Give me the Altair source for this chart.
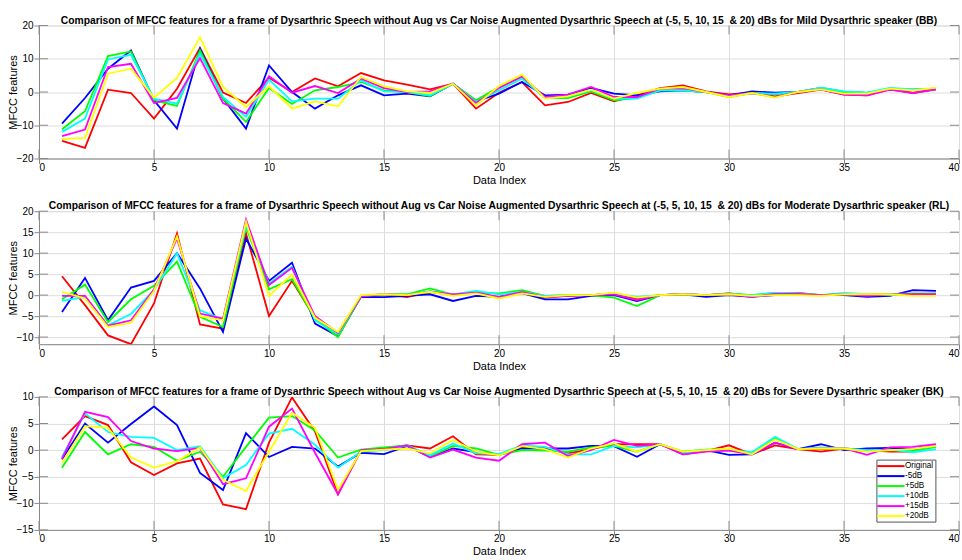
import altair as alt
import pandas as pd

# ---------------- data ----------------
x_idx = list(range(1, 40))
series_names = ["Original", "-5dB", "+5dB", "+10dB", "+15dB", "+20dB"]
series_colors = ["#FF0000", "#0000FF", "#00FF00", "#00FFFF", "#FF00FF", "#FFFF00"]

x_ticks = [0, 5, 10, 15, 20, 25, 30, 35, 40]
mild_yticks = [-20, -10, 0, 10, 20]
mod_yticks = [-10, -5, 0, 5, 10, 15, 20]
sev_yticks = [-15, -10, -5, 0, 5, 10]

# Mild (BB)
mild_original = [-14.7, -16.8, 0.7, -0.3, -8, 1, 13.3, -0.2, -3.3, 4.3, 0, 4.1, 1.7, 5.7, 3.5, 2.2, 0.8, 2.5, -5, -0.2,
                 3, -4, -3, -0.3, -2.8, -1, 1.2, 2, 0.2, -0.7, -0.3, -1.3, -0.3, 0.7, -0.8, -1, 0.8, -0.3, 0.8]
mild_m5 = [-9.5, -1.8, 7, 12.5, -2.5, -11, 13, -2, -11, 8, 0, -5, -1, 2, -1, -0.5, -1.3, 2.5, -2.8, -0.5,
           3, -1, -0.8, 1.2, -0.5, -1, 0.2, 0.5, 0, -1, 0.2, -0.2, 0, 1.2, 0, -0.3, 0.8, 0.7, 1]
mild_p5 = [-11.2, -5.8, 10.8, 12.2, -2.5, -4.2, 12.5, -2, -9, 1.2, -3.6, 0.5, 1.5, 3, 0.5, 0, -1.2, 2.5, -2.5, 1.5,
           4.5, -1.8, -1.8, 0.2, -2.5, -1.8, 0.5, 0.5, 0, -1.5, -0.3, -0.7, 0, 1, 0, -0.3, 1, 0.7, 1]
mild_p10 = [-12, -8, 9.8, 11.2, -2, -3.5, 11.5, -1.5, -7.5, 3.7, -2.8, -2, -2, 3.5, 0.2, 0, -1, 2.5, -3, 0.5,
            4, -1.7, -1.3, 0.5, -2, -2, 0.5, 0.5, 0, -1.3, -0.3, -0.5, 0, 1.3, 0.2, -0.2, 1.2, 0.8, 1]
mild_p15 = [-13.3, -11.3, 7.5, 8.5, -3.3, -1.8, 10.2, -3.3, -6.5, 4.7, -0.2, 1.8, -0.3, 4, 1.2, 0, 0.2, 2.5, -3.3, 1.2,
            4.7, -1.5, -0.8, 1.5, -1.5, -1.5, 1, 1.2, 0, -1, -0.3, -1.5, 0, 0.8, -0.8, -1, 0.7, -0.3, 0.8]
mild_p20 = [-14.2, -13.8, 5.5, 7, -1.7, 4.2, 16.5, 1.5, -4.5, 1.7, -5, -2.8, -4.3, 4.5, 1.7, 0.2, -0.3, 2.5, -4, 1.8,
            5.2, -2, -1.3, 0.7, -2, -0.3, 1, 1.5, 0, -1.5, -0.3, -1.7, 0, 0.8, -0.5, -0.5, 1, 0.5, 1.3]

# Moderate (RL)
mod_original = [4.5, -2.4, -9.6, -11.7, -2, 14.7, -7, -8, 14.7, -5, 3.4, -5.5, -9.2, -0.3, 0.2, -0.5, 0.8, 0, 0.6, -0.6,
                0.8, -0.6, -0.2, 0, 0.4, -0.8, 0, 0.2, 0, 0.4, -0.2, 0.4, 0.5, 0, 0.2, 0.2, 0.2, 0.2, 0.2]
mod_m5 = [-4, 4.1, -6, 1.8, 3.4, 10, 1.6, -8.8, 13.5, 3.4, 7.7, -6.8, -9.8, -0.4, -0.5, -0.2, 0.2, -1.4, -0.2, -0.4,
          0.5, -1, -1, -0.2, 0, -1.4, 0, 0.2, -0.4, 0, -0.4, 0, 0, 0, 0, -0.4, -0.2, 1.2, 1]
mod_p5 = [-1, 2.5, -6.4, -1, 2.2, 8, -5.2, -7.6, 16.3, 1.4, 3.8, -5.6, -10, -0.2, 0.2, 0.2, 1.6, 0.1, 0.6, 0.4,
          1.2, -0.2, 0, 0, -0.6, -2.6, 0, 0.2, 0, 0.4, 0, 0.5, 0.4, 0, 0.2, 0.2, 0.2, 0.4, 0.4]
mod_p10 = [-1.4, -0.4, -7.2, -4.5, 1.2, 10, -3.6, -5.8, 16.7, 2.8, 6.8, -6, -9.3, -0.2, 0.2, 0, 1, 0.2, 1, 0.2,
           0.7, -0.2, 0, 0, 0.4, -0.4, 0, 0.2, 0, 0.2, 0, 0.5, 0.4, 0, 0.5, 0.2, 0, 0, 0.2]
mod_p15 = [-0.2, -0.2, -7.3, -6, 1.4, 13.5, -4.4, -5.6, 18, 2.4, 6.5, -5, -9, -0.3, 0.2, 0, 0.8, 0.2, 0.6, -0.4,
           0.7, -0.4, -0.2, 0, 0.2, -1.2, 0, 0.2, 0, 0.2, -0.4, 0.3, 0.3, 0, 0.2, -0.2, 0.2, 0.2, 0.2]
mod_p20 = [0.8, -0.8, -7.6, -6.6, 1, 14, -5, -6, 17.5, -0.2, 4.9, -5.4, -8.8, 0, 0.2, 0, 0.8, -0.2, 0.4, -0.8,
           0.4, -0.4, 0, 0, 0.6, -0.6, 0, 0.2, 0, 0.2, -0.2, 0, 0, -0.2, 0.2, 0.2, 0.2, -0.2, -0.2]

# Severe (BK)
sev_original = [2, 6.4, 4.7, -2.3, -4.7, -2.5, -1.6, -10.2, -11.1, 1.4, 9.9, 3.5, -8.3, 0, 0.3, 0.9, 0.3, 2.6, -0.8, -0.9,
                0.6, 0.3, -0.6, 0.2, 1.1, 1.1, 1.1, -0.8, -0.2, 0.9, -0.8, 0.9, 0.2, -0.3, 0.3, 0, -0.3, -0.3, 0.9]
sev_m5 = [-1.7, 5, 1.4, 4.9, 8.2, 4.7, -4.3, -7.5, 3.2, -1.3, 0.6, 0.3, -3.1, -0.5, -0.75, 0.75, -1.25, 0.3, -0.4, -0.9,
          0.3, 0.3, 0.3, 0.8, 0.75, -1.25, 1.1, -0.6, 0, -0.9, -0.8, 1.4, 0.2, 1.1, 0, 0.3, 0.4, 0.1, 0.8]
sev_p5 = [-3.3, 3.4, -0.8, 1.1, 0.6, -2, -0.3, -5, 0.6, 6.1, 6.4, 3.7, -1.4, 0.1, 0.5, 0.9, -1.25, 0.8, 0.3, -0.9,
          0, -0.1, -0.3, 0.5, 0.8, -0.3, 1.1, -0.3, 0.1, 0.2, -0.8, 2.2, 0.2, 0.2, 0.3, -0.2, 0, -0.2, 0.6]
sev_p10 = [-1.3, 6.9, 3.4, 2.5, 2.3, 0, 0.75, -5.3, -2.8, 3.1, 4, 1, -3.3, -0.3, 0, 0.9, -1, 1.25, -0.6, -0.75,
           0.9, 0.6, -0.8, -0.8, 0.8, 0.5, 1.1, -0.6, 0, 0, -0.4, 2.5, 0.2, 0.5, 0.3, 0, 0.1, -0.4, 0.2]
sev_p15 = [-1.6, 7.2, 6.2, 1.7, 0.3, -0.2, 0.4, -6.4, -5.3, 4.4, 7.8, -0.5, -8.3, 0, 0.2, 0.9, -1.4, 0.1, -1.4, -2,
           1.1, 1.4, -1.1, 0, 1.9, 0.8, 1.1, -0.8, -0.3, -0.1, -0.8, 1.4, 0.2, 0.3, 0.3, -0.9, 0.5, 0.6, 1.1]
sev_p20 = [-2.4, 4.5, 4.2, -1.4, -3.3, -2.1, 0.5, -5.6, -7.7, -0.3, 7, 4.2, -7.5, -0.2, 0.1, 0.3, -0.6, 1.9, -0.3, -1,
           0.75, 0.2, -1.4, 0.3, 1.25, -0.3, 1.1, -0.3, 0, 0.3, -0.8, 2, 0.2, 0.3, 0.3, -0.3, 0, 0.2, 0.8]

title_head = ("Comparison of MFCC features for a frame of Dysarthric Speech without Aug vs Car Noise "
              "Augmented Dysarthric Speech at (-5, 5, 10, 15 \u00a0& 20) dBs for ")
titles = [title_head + "Mild Dysarthric speaker (BB)",
          title_head + "Moderate Dysarthric speaker (RL)",
          title_head + "Severe Dysarthric speaker (BK)"]

W, H = 920, 133
FRAME = "#8a8a8a"
TEXT = "#333333"
FONT = "Liberation Sans"


def panel(series_lists, title, ydomain, yticks, show_legend):
    rows = []
    for name, vals in zip(series_names, series_lists):
        for i, v in zip(x_idx, vals):
            rows.append({"idx": i, "val": v, "series": name})
    df = pd.DataFrame(rows)
    xs = alt.Scale(domain=[0, 40], nice=False, zero=False)
    ys = alt.Scale(domain=ydomain, nice=False, zero=False)
    x_axis = alt.Axis(values=x_ticks, labelFlush=True, titleFontWeight="normal",
                      labelPadding=-1, titlePadding=2, minExtent=0)
    y_axis = alt.Axis(values=yticks, titleFontWeight="normal", labelPadding=1,
                      titleX=-25.3, titleY=H / 2, titleBaseline="middle", titleAngle=270)
    if show_legend:
        legend = alt.Legend(title=None, orient="none", legendX=837.4, legendY=62.7,
                            strokeColor="#555555", fillColor="#FFFFFF", padding=1.5,
                            rowPadding=1, cornerRadius=0,
                            symbolType="M-3.4,0H3.4", symbolSize=64, symbolStrokeWidth=2,
                            symbolOffset=8, labelOffset=9,
                            labelFont=FONT, labelFontSize=8.2, labelColor="#000000")
    else:
        legend = None
    lines = alt.Chart(df).mark_line(strokeWidth=1.8, clip=True).encode(
        x=alt.X("idx:Q", scale=xs, title="Data Index", axis=x_axis),
        y=alt.Y("val:Q", scale=ys, title="MFCC features", axis=y_axis),
        color=alt.Color("series:N", sort=series_names,
                        scale=alt.Scale(domain=series_names, range=series_colors),
                        legend=legend),
    )
    xt = pd.DataFrame({"t": x_ticks})
    yt = pd.DataFrame({"t": yticks})
    tl = 9
    tb = alt.Chart(xt).mark_rule(color=FRAME, strokeWidth=1).encode(
        x=alt.X("t:Q", scale=xs, title="Data Index", axis=x_axis), y=alt.value(H), y2=alt.value(H - tl))
    tt = alt.Chart(xt).mark_rule(color=FRAME, strokeWidth=1).encode(
        x=alt.X("t:Q", scale=xs, title="Data Index", axis=x_axis), y=alt.value(0), y2=alt.value(tl))
    tlft = alt.Chart(yt).mark_rule(color=FRAME, strokeWidth=1).encode(
        y=alt.Y("t:Q", scale=ys, title="MFCC features", axis=y_axis), x=alt.value(0), x2=alt.value(tl))
    trgt = alt.Chart(yt).mark_rule(color=FRAME, strokeWidth=1).encode(
        y=alt.Y("t:Q", scale=ys, title="MFCC features", axis=y_axis), x=alt.value(W), x2=alt.value(W - tl))
    return alt.layer(lines, tb, tt, tlft, trgt).properties(
        width=W, height=H,
        title=alt.Title(title, fontSize=10.3, font=FONT, fontWeight="bold", color="#000000",
                        offset=-5.5, anchor="middle"))


p1 = panel([mild_original, mild_m5, mild_p5, mild_p10, mild_p15, mild_p20], titles[0], [-20, 20], mild_yticks, False)
p2 = panel([mod_original, mod_m5, mod_p5, mod_p10, mod_p15, mod_p20], titles[1], [-11.7, 20], mod_yticks, False)
p3 = panel([sev_original, sev_m5, sev_p5, sev_p10, sev_p15, sev_p20], titles[2], [-15, 10], sev_yticks, True)

chart = alt.vconcat(p1, p2, p3, spacing=52.7, bounds="flush").resolve_scale(
    color="independent").resolve_legend(color="independent").properties(
    padding={"left": 7, "top": 14.5, "right": 0, "bottom": 0}
).configure_view(stroke=FRAME, strokeWidth=1).configure_axis(
    grid=False, domain=False, ticks=False, tickSize=0,
    labelFont=FONT, labelFontSize=8.5, labelColor=TEXT,
    titleFont=FONT, titleFontSize=10.5, titleColor=TEXT, titleFontWeight="normal"
).configure(background="white")

chart.save("out.html", embed_options={"renderer": "svg", "actions": False})
